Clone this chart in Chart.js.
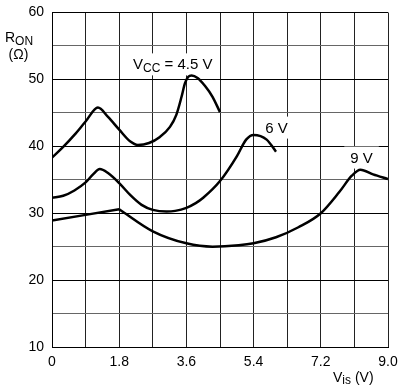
<!DOCTYPE html>
<html><head><meta charset="utf-8">
<script src="https://cdn.jsdelivr.net/npm/chart.js@4.4.1/dist/chart.umd.min.js"></script>
<style>html,body{margin:0;padding:0;background:#fff}canvas{display:block}</style>
</head><body>
<canvas id="c" width="400" height="390"></canvas>
<script>
// V_CC = 4.5 V
const vis45 = [0, 0.3, 0.6, 0.9, 1.23, 1.5, 1.8, 2.1, 2.3, 2.6, 2.89, 3.16, 3.33, 3.47, 3.56, 3.65, 3.74, 3.9, 4.1, 4.3, 4.5];
const ron45 = [38.3, 39.9, 41.7, 43.7, 45.8, 44.4, 42.5, 40.7, 40.2, 40.5, 41.4, 42.9, 44.7, 47.4, 49.4, 50.4, 50.6, 50.2, 49.0, 47.4, 45.1];
// V_CC = 6 V
const vis6 = [0, 0.3, 0.6, 0.9, 1.1, 1.28, 1.5, 1.8, 2.1, 2.4, 2.7, 3.07, 3.3, 3.6, 3.85, 4.05, 4.5, 4.95, 5.2, 5.4, 5.75, 6.0];
const ron6 = [32.3, 32.6, 33.4, 34.6, 35.8, 36.6, 36.0, 34.5, 32.7, 31.25, 30.5, 30.25, 30.35, 30.8, 31.5, 32.3, 34.8, 38.5, 41.0, 41.7, 41.0, 39.2];
// V_CC = 9 V
const vis9 = [0, 0.9, 1.8, 2.7, 3.6, 4.3, 5.0, 5.4, 6.0, 6.6, 7.2, 7.7, 8.03, 8.26, 8.6, 9.0];
const ron9 = [28.9, 29.75, 30.6, 27.3, 25.5, 25.0, 25.2, 25.5, 26.4, 27.9, 30.0, 33.2, 35.6, 36.5, 35.8, 35.1];

const xTicks = [0, 0.9, 1.8, 2.7, 3.6, 4.5, 5.4, 6.3, 7.2, 8.1, 9.0];
const xTickLabels = ['0', '', '1.8', '', '3.6', '', '5.4', '', '7.2', '', '9.0'];
const yTicks = [10, 15, 20, 25, 30, 35, 40, 45, 50, 55, 60];
const yTickLabels = ['10', '', '20', '', '30', '', '40', '', '50', '', '60'];

const FONT = "'Liberation Sans', Arial, Helvetica, sans-serif";

function toXY(xs, ys) { return xs.map((x, i) => ({ x: x, y: ys[i] })); }
const split9 = vis9.indexOf(1.8);

const lineStyle = { borderColor: '#000', backgroundColor: '#000', borderWidth: 2.5, pointRadius: 0, fill: false, cubicInterpolationMode: 'monotone' };

// curve labels: parts of rich text, anchored at data coords (left, baseline)
const curveLabels = [
  { parts: [['V', 15, 0], ['CC', 12, 3], [' = 4.5 V', 15, 0]], x: 2.17, y: 51.5 },
  { parts: [['6 V', 15, 0]], x: 5.71, y: 42.05 },
  { parts: [['9 V', 15, 0]], x: 7.99, y: 37.57 }
];

function richWidth(ctx, parts) {
  let w = 0;
  parts.forEach(p => { ctx.font = p[1] + 'px ' + FONT; w += ctx.measureText(p[0]).width; });
  return w;
}
function drawRich(ctx, parts, x, y) {
  let cx = x;
  ctx.textAlign = 'left';
  ctx.textBaseline = 'alphabetic';
  parts.forEach(p => {
    ctx.font = p[1] + 'px ' + FONT;
    ctx.fillText(p[0], cx, y + p[2]);
    cx += ctx.measureText(p[0]).width;
  });
}

const textPlugin = {
  id: 'texts',
  beforeDatasetsDraw(chart) {
    const ctx = chart.ctx, xs = chart.scales.x, ys = chart.scales.y;
    ctx.save();
    curveLabels.forEach(l => {
      const px = xs.getPixelForValue(l.x), py = ys.getPixelForValue(l.y);
      const w = richWidth(ctx, l.parts);
      ctx.fillStyle = '#fff';
      ctx.fillRect(px - 6, py - 16, w + 12, 22);
      ctx.fillStyle = '#000';
      drawRich(ctx, l.parts, px, py);
    });
    ctx.restore();
  },
  afterDraw(chart) {
    const ctx = chart.ctx;
    ctx.save();
    ctx.fillStyle = '#000';
    // y-axis title
    drawRich(ctx, [['R', 14, 0], ['ON', 12, 2.5]], 5, 42);
    ctx.font = '14px ' + FONT;
    ctx.textAlign = 'center';
    ctx.fillText('(\u03A9)', 18.5, 58.5);
    // x-axis title
    drawRich(ctx, [['V', 14, 0], ['is', 12, 2], [' (V)', 14, 0]], 333, 382);
    ctx.restore();
  }
};

new Chart(document.getElementById('c'), {
  type: 'line',
  data: {
    datasets: [
      Object.assign({}, lineStyle, { label: '4.5 V', data: toXY(vis45, ron45) }),
      Object.assign({}, lineStyle, { label: '6 V', data: toXY(vis6, ron6) }),
      Object.assign({}, lineStyle, { label: '9 V', data: toXY(vis9.slice(0, split9 + 1), ron9.slice(0, split9 + 1)), cubicInterpolationMode: 'default', tension: 0 }),
      Object.assign({}, lineStyle, { label: '9 V b', data: toXY(vis9.slice(split9), ron9.slice(split9)) })
    ]
  },
  options: {
    responsive: false,
    animation: false,
    devicePixelRatio: 1,
    layout: { padding: { left: 0, right: 12, top: 12.5, bottom: 0 } },
    plugins: { legend: { display: false }, tooltip: { enabled: false } },
    scales: {
      x: {
        type: 'linear', min: 0, max: 9,
        afterBuildTicks: s => { s.ticks = xTicks.map(v => ({ value: v })); },
        afterFit: s => { s.height = 43; s.paddingLeft = 0; s.paddingRight = 0; },
        ticks: { autoSkip: false, maxRotation: 0, padding: 7, color: '#000', font: { family: FONT, size: 14 },
                 callback: (v, i) => xTickLabels[i] },
        grid: { color: '#222', lineWidth: 1, drawTicks: false },
        border: { display: true, color: '#000', width: 1 }
      },
      y: {
        type: 'linear', min: 10, max: 60,
        afterBuildTicks: s => { s.ticks = yTicks.map(v => ({ value: v })); },
        afterFit: s => { s.width = 52; s.paddingTop = 0; s.paddingBottom = 0; },
        ticks: { autoSkip: false, padding: 8, color: '#000', font: { family: FONT, size: 14 },
                 callback: (v, i) => yTickLabels[i] },
        grid: { color: c => (c.tick && c.tick.value % 10 === 0) ? '#000' : '#666', lineWidth: 1, drawTicks: false },
        border: { display: true, color: '#000', width: 1 }
      }
    }
  },
  plugins: [textPlugin]
});
</script>
</body></html>
